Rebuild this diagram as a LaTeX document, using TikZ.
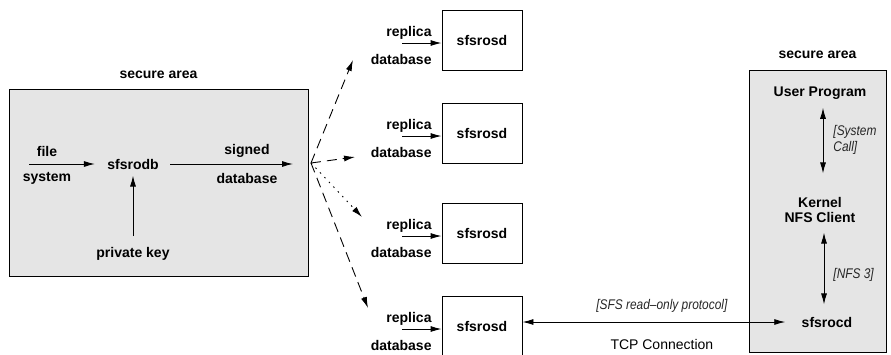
\documentclass[tikz,border=0pt]{standalone}
\usepackage{fontspec}
\setmainfont{Liberation Sans}
\newfontfamily\narrowfont[FakeStretch=0.85]{Liberation Sans}
\usepackage{tikz}
\usetikzlibrary{arrows.meta}

\begin{document}
\begin{tikzpicture}[x=1pt, y=-1pt, line width=0.9pt,
    >={Latex[length=11pt,width=6pt]},
    lbl/.style={font=\fontsize{14}{15}\selectfont\bfseries, inner sep=0pt},
    tag/.style={font=\fontsize{14}{16}\selectfont\narrowfont\itshape, inner sep=0pt, text=black!85},
    secure/.style={draw, fill=black!10, inner sep=0pt},
    srvbox/.style={draw, fill=white, minimum width=80pt, minimum height=60pt,
      font=\fontsize{14}{15}\selectfont\bfseries},
    dashline/.style={dash pattern=on 10pt off 6pt},
    dotline/.style={dash pattern=on 1.5pt off 5pt}]
        \useasboundingbox (0,0) rectangle (891,354);

        % area segura esquerda
        \node[secure, minimum width=299pt, minimum height=187pt] (areaL) at (158.5,182.5) {};
        \node[lbl] (titleL) at (158.5,75) {secure area};
        \node[lbl] (rodb) at (133,164) {sfsrodb};
        \node[lbl] (privkey) at (133,254) {private key};
        \node[lbl] (fileL) at (47,151) {file};
        \node[lbl] (systemL) at (47,178) {system};
        \node[lbl] (signedL) at (247,151) {signed};
        \node[lbl] (sdbL) at (247,178) {database};
        \coordinate (fsin) at (29,164);
        \coordinate (sigout) at (293,164);

        \draw[->, shorten >=12pt] (fsin) -- (rodb.west);
        \draw[->, shorten <=11pt] (rodb.east) -- (sigout);
        \draw[->, shorten <=11pt, shorten >=6pt] (privkey.north) -- (rodb.south);

        % replicas
        \coordinate (fan) at (311,163);
        \coordinate (fan1) at (353,60);
        \coordinate (fan2) at (355,157);
        \coordinate (fan3) at (362,217);
        \coordinate (fan4) at (368,308);
        \draw[->, dashline] (fan) -- (fan1);
        \draw[->, dashline] (fan) -- (fan2);
        \draw[->, dotline] (fan) -- (fan3);
        \draw[->, dashline] (fan) -- (fan4);

        \foreach \i/\y in {1/40, 2/133, 3/233, 4/326} {
          \node[srvbox] (rosd\i) at (482,\y) {sfsrosd};
          \node[lbl, anchor=east] (rep\i) at (432,\y-7) {replica};
          \node[lbl, anchor=east] (rdb\i) at (432,\y+19) {database};
          \coordinate (rin\i) at (402,\y+3);
          \draw[->] (rin\i) -- (rin\i -| rosd\i.west);
        }

        % area segura direita
        \node[secure, minimum width=137pt, minimum height=282pt] (areaR) at (817.5,211) {};
        \node[lbl] (titleR) at (817.5,55) {secure area};
        \node[lbl] (userprog) at (820,93) {User Program};
        \node[lbl, align=center] (kernel) at (820,209.5) {Kernel\\NFS Client};
        \node[lbl] (rocd) at (827,322) {sfsrocd};
        \node[tag, align=left, anchor=west] (syscall) at (833,140) {[System\\Call]};
        \node[tag, anchor=west] (nfs) at (833,275) {[NFS 3]};

        \draw[<->, shorten <=8pt, shorten >=23pt] ([xshift=3pt]userprog.south) -- ([xshift=3pt]kernel.north);
        \draw[<->, shorten <=10pt, shorten >=12pt] ([xshift=4pt]kernel.south) -- ([xshift=-3pt]rocd.north);

        % conexao TCP
        \draw[<->, shorten >=16pt] (rosd4.east |- rocd.west) -- (rocd.west)
          node[tag, midway, above=9pt] (proto) {[SFS read–only protocol]}
          node[midway, below=17pt, font=\fontsize{14}{15}\selectfont, inner sep=0pt] (tcp) {TCP Connection};
\end{tikzpicture}
\end{document}
